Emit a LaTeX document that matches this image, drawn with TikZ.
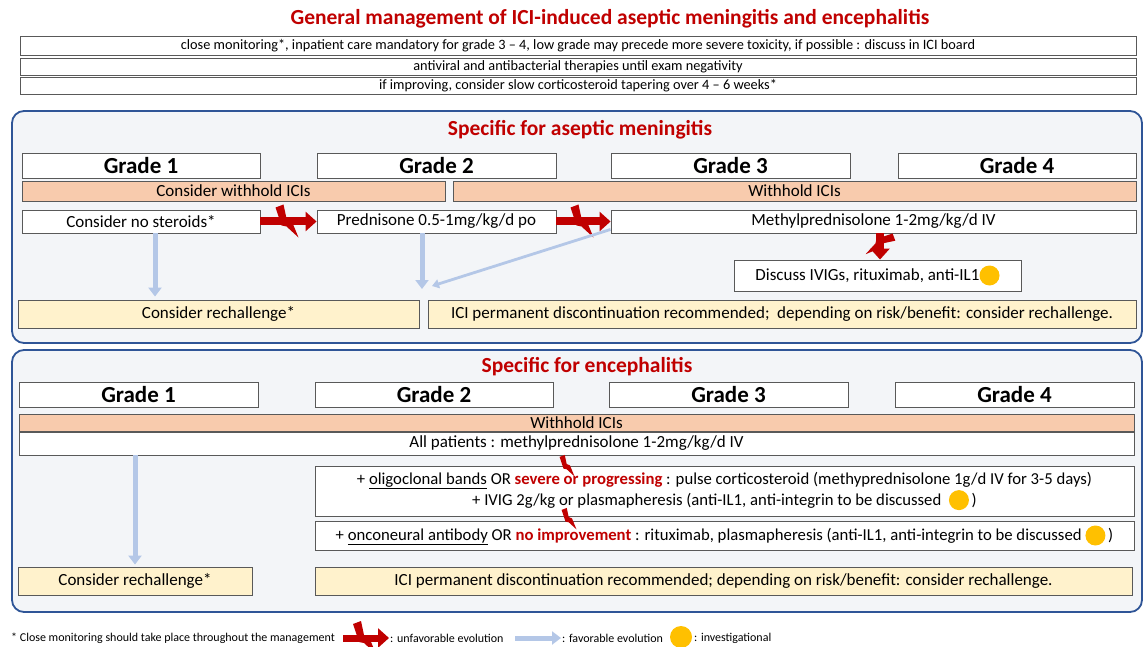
\documentclass[tikz,border=0pt]{standalone}
\usepackage{fontspec}
\setmainfont{Carlito}
\usetikzlibrary{arrows.meta,calc}
\definecolor{ired}{HTML}{C00000}
\definecolor{pblue}{HTML}{2F5597}
\definecolor{pfill}{HTML}{F3F5F8}
\definecolor{orng}{HTML}{F8CBAD}
\definecolor{ylw}{HTML}{FFF2CC}
\definecolor{lblue}{HTML}{B4C7E7}
\definecolor{inv}{HTML}{FFC000}
\definecolor{bgray}{HTML}{595959}
\newcommand{\invdot}{\tikz[baseline=-5pt]\fill[inv] (0,0) circle[radius=10pt];}
\tikzset{
  box/.style={draw=bgray, line width=0.9pt, fill=white, inner sep=0pt, font=\fontsize{17}{19}\selectfont},
  gbox/.style={box, font=\bfseries\fontsize{23}{25}\selectfont},
  obar/.style={box, fill=orng},
  ybox/.style={box, fill=ylw},
  topbox/.style={box, font=\fontsize{14.3}{16}\selectfont},
  panel/.style={draw=pblue, line width=1.8pt, fill=pfill, rounded corners=12pt, inner sep=0pt},
  ttl/.style={text=ired, font=\bfseries\fontsize{21.5}{24}\selectfont},
  redarr/.style={draw=ired, line width=8pt, -{Triangle[length=11pt,width=19pt]}},
  bluearr/.style={draw=lblue, line width=5pt, -{Triangle[length=9pt,width=13pt]}},
  thinblue/.style={draw=lblue, line width=2.8pt, -{Triangle[length=7pt,width=9pt]}},
  legtext/.style={anchor=west, font=\fontsize{12}{14}\selectfont, inner sep=1pt},
  ltbolt/.pic={\fill[ired] (-13,-14) -- (-5,-17) -- (-2,-3) -- (3,-1) -- (10,16) -- (-2,5) -- (-7,4) -- cycle;}
}
\begin{document}
\begin{tikzpicture}[x=1pt,y=-1pt]
\useasboundingbox[fill=white] (0,0) rectangle (1146,647);
% general
\node[ttl] (title) at (610,19) {General management of ICI-induced aseptic meningitis and encephalitis};
\node[topbox, minimum width=1116pt, minimum height=19pt] (t1) at (578,45.5) {close monitoring*, inpatient care mandatory for grade 3 – 4, low grade may precede more severe toxicity, if possible : discuss in ICI board};
\node[topbox, minimum width=1116pt, minimum height=17pt] (t2) at (578,66.5) {antiviral and antibacterial therapies until exam negativity};
\node[topbox, minimum width=1116pt, minimum height=17pt] (t3) at (578,86) {if improving, consider slow corticosteroid tapering over 4 – 6 weeks*};

% meningitis panel
\node[panel, minimum width=1130pt, minimum height=232pt] (p1) at (577,227) {};
\node[ttl] (m0) at (580,130) {Specific for aseptic meningitis};
\node[gbox, minimum width=238pt, minimum height=25pt] (mg1) at (141,165.5) {Grade 1};
\node[gbox, minimum width=239pt, minimum height=25pt] (mg2) at (436.5,165.5) {Grade 2};
\node[gbox, minimum width=239pt, minimum height=25pt] (mg3) at (730.5,165.5) {Grade 3};
\node[gbox, minimum width=238pt, minimum height=25pt] (mg4) at (1017,165.5) {Grade 4};
\node[obar, minimum width=423pt, minimum height=20pt] (mw1) at (233.5,191) {Consider withhold ICIs};
\node[obar, minimum width=683pt, minimum height=20pt] (mw2) at (794.5,191) {Withhold ICIs};
\node[box, minimum width=238pt, minimum height=23pt] (ns) at (141,221.5) {Consider no steroids*};
\node[box, minimum width=239pt, minimum height=23pt] (pred) at (436.5,221.5) {Prednisone 0.5-1mg/kg/d po};
\node[box, minimum width=525pt, minimum height=23pt] (mp) at (873.5,221.5) {Methylprednisolone 1-2mg/kg/d IV};
\node[box, minimum width=287pt, minimum height=31pt] (disc) at (877.5,275.5) {Discuss IVIGs, rituximab, anti-IL1\invdot};
\node[ybox, minimum width=401pt, minimum height=28pt] (rch) at (218.5,314) {Consider rechallenge*};
\node[ybox, minimum width=708pt, minimum height=28pt] (perm) at (782,314) {ICI permanent discontinuation recommended;\ \ depending on risk/benefit: consider rechallenge.};

\draw[redarr] (ns.east) -- (pred.west);
\pic at ($(ns.east)!0.5!(pred.west)$) {ltbolt};
\draw[redarr] (pred.east) -- (mp.west);
\pic at ($(pred.east)!0.5!(mp.west)$) {ltbolt};
\coordinate (vx) at (880,0);
\draw[redarr] (mp.south -| vx) -- (disc.north -| vx);
\pic[rotate=-90, scale=0.9] at ($(mp.south -| vx)!0.45!(disc.north -| vx)$) {ltbolt};

\coordinate (ax1) at (155,0);
\draw[bluearr] (ns.south -| ax1) -- ($(rch.north -| ax1)+(0,-3)$);
\coordinate (ax2) at (422,0);
\coordinate (pe) at (422,289);
\draw[bluearr] (pred.south -| ax2) -- (pe);
\coordinate (de) at (432,286);
\draw[thinblue] ($(mp.south west)+(0,-4)$) -- (de);

% encephalitis panel
\node[panel, minimum width=1130pt, minimum height=262pt] (p2) at (577,481) {};
\node[ttl] (e0) at (587,367) {Specific for encephalitis};
\node[gbox, minimum width=239pt, minimum height=25pt] (eg1) at (138.5,394.5) {Grade 1};
\node[gbox, minimum width=238pt, minimum height=25pt] (eg2) at (434,394.5) {Grade 2};
\node[gbox, minimum width=239pt, minimum height=25pt] (eg3) at (728.5,394.5) {Grade 3};
\node[gbox, minimum width=239pt, minimum height=25pt] (eg4) at (1014.5,394.5) {Grade 4};
\node[obar, minimum width=1115pt, minimum height=17pt] (ew) at (576.5,422.5) {Withhold ICIs};
\node[box, minimum width=1115pt, minimum height=23pt] (all) at (576.5,443.5) {All patients : methylprednisolone 1-2mg/kg/d IV};
\node[box, minimum width=819pt, minimum height=50pt, align=center, font=\fontsize{16.7}{21}\selectfont] (ea) at (724.5,491) {+ \underline{oligoclonal bands} OR \textcolor{ired}{\textbf{severe or progressing}} : pulse corticosteroid (methyprednisolone 1g/d IV for 3-5 days)\\+ IVIG 2g/kg or plasmapheresis (anti-IL1, anti-integrin to be discussed \ \invdot\,)};
\node[box, minimum width=819pt, minimum height=29pt, font=\fontsize{16.7}{19}\selectfont] (eb) at (724.5,535.5) {+ \underline{onconeural antibody} OR \textcolor{ired}{\textbf{no improvement}} : rituximab, plasmapheresis (anti-IL1, anti-integrin to be discussed \invdot\,)};
\node[ybox, minimum width=234pt, minimum height=28pt] (rch2) at (135,581) {Consider rechallenge*};
\node[ybox, minimum width=817pt, minimum height=28pt] (perm2) at (723.5,581) {ICI permanent discontinuation recommended; depending on risk/benefit: consider rechallenge.};

\pic[scale=0.65] at (568,466) {ltbolt};
\pic[scale=0.65] at (570,519) {ltbolt};
\coordinate (ax3) at (135,0);
\draw[bluearr] (all.south -| ax3) -- ($(rch2.north -| ax3)+(0,-2)$);

% legend
\node[legtext] (fn) at (10,638) {* Close monitoring should take place throughout the management};
\coordinate (lr1) at (343,638);
\coordinate (lr2) at (389,638);
\draw[redarr, line width=7pt] (lr1) -- (lr2);
\pic at ($(lr1)!0.5!(lr2)$) {ltbolt};
\node[legtext] (lu) at (389,638) {: unfavorable evolution};
\coordinate (lb1) at (515,638);
\coordinate (lb2) at (561,638);
\draw[bluearr] (lb1) -- (lb2);
\node[legtext] (lf) at (561,638) {: favorable evolution};
\node[circle, fill=inv, minimum size=22pt, inner sep=0pt] (ld) at (681,637) {};
\node[legtext] (li) at (693,638) {: investigational};
\end{tikzpicture}
\end{document}
